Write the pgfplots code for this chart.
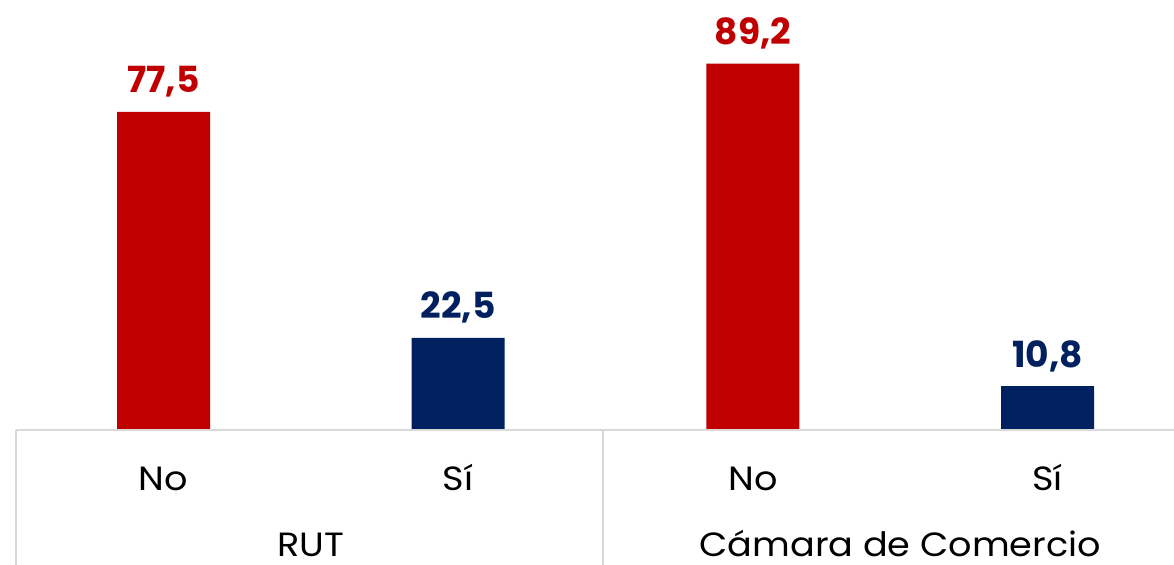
\documentclass[border=0pt]{standalone}
\usepackage{fontspec}
\setmainfont{Poppins}
\newfontfamily\lblfont{Poppins}[FakeStretch=1.09]
\usepackage{pgfplots}
\pgfplotsset{compat=1.18}
\definecolor{barred}{HTML}{C00000}
\definecolor{barblue}{HTML}{002060}
\definecolor{axgray}{HTML}{D9D9D9}
\tikzset{lbl/.style={anchor=base, text depth=0pt, inner sep=1pt, font=\lblfont\fontsize{16.8}{18}\selectfont}}
\begin{document}
\begin{tikzpicture}
\begin{axis}[
  scale only axis,
  width=578.9pt, height=215.25pt,
  xmin=-0.5, xmax=3.429,
  ymin=0, ymax=104.7,
  axis lines=none,
  clip=false,
  ybar, bar width=46.5pt, bar shift=0pt,
  point meta=explicit symbolic,
  nodes near coords,
  every node near coord/.append style={font=\fontsize{18}{20}\selectfont\bfseries, anchor=base, yshift=9.5pt},
]
\addplot[fill=barred, draw=none, every node near coord/.append style={text=barred}] coordinates {(0,77.5) [77,5] (2,89.2) [89,2]};
\addplot[fill=barblue, draw=none, every node near coord/.append style={text=barblue}] coordinates {(1,22.5) [22,5] (3,10.8) [10,8]};
\coordinate (bl) at (rel axis cs:0,0);
\draw[axgray, line width=1pt] (axis cs:-0.5,0) -- (rel axis cs:1,0);
\draw[axgray, line width=1pt] (axis cs:-0.5,0) -- ([yshift=-70pt]axis cs:-0.5,0);
\draw[axgray, line width=1pt] (axis cs:1.49,0) -- ([yshift=-70pt]axis cs:1.49,0);
\node[lbl] at ([yshift=-30.25pt]axis cs:0,0) {No};
\node[lbl] at ([yshift=-30.25pt]axis cs:1,0) {Sí};
\node[lbl] at ([yshift=-30.25pt]axis cs:2,0) {No};
\node[lbl] at ([yshift=-30.25pt]axis cs:3,0) {Sí};
\node[lbl] at ([yshift=-63pt]axis cs:0.5,0) {RUT};
\node[lbl] at ([yshift=-63pt]axis cs:2.5,0) {Cámara de Comercio};
\end{axis}
\pgfresetboundingbox
\path[use as bounding box] (bl) ++(-8.1pt,-67.25pt) rectangle ++(587pt,282.5pt);
\end{tikzpicture}
\end{document}
